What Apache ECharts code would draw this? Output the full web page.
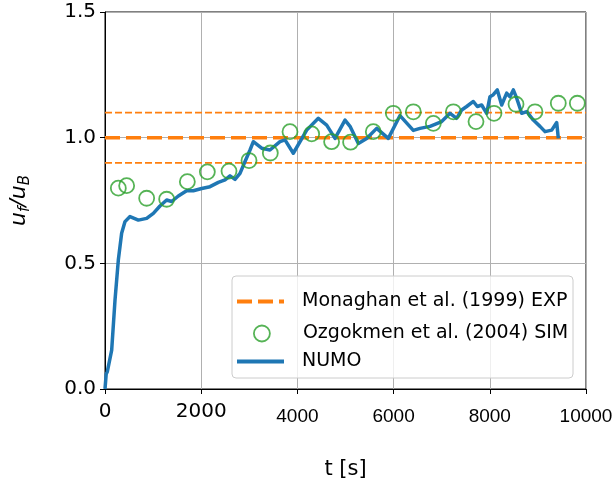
<!DOCTYPE html>
<html>
<head>
<meta charset="utf-8">
<script src="https://cdn.jsdelivr.net/npm/echarts@6/dist/echarts.min.js"></script>
<style>
  html, body { margin: 0; padding: 0; background: #fff; }
  #chart { width: 612px; height: 482px; }
</style>
</head>
<body>
<div id="chart"></div>
<script>
// model run (NUMO)
const numoT = [0, 25, 48, 139, 208, 277, 346, 416, 520, 693, 866, 1005, 1143, 1282, 1386, 1525, 1697, 1836,
  2010, 2183, 2356, 2495, 2599, 2703, 2807, 2911, 3015, 3084, 3257, 3430, 3638, 3742, 3915, 4193, 4435,
  4609, 4782, 4990, 5094, 5267, 5440, 5648, 5890, 6133, 6410, 6549, 6757, 6999, 7173, 7311, 7415, 7519,
  7658, 7741, 7831, 7935, 8004, 8073, 8156, 8247, 8351, 8420, 8489, 8559, 8663, 8767, 8905, 9044, 9148,
  9287, 9391, 9425]
const numoV = [0.0, 0.06, 0.069, 0.155, 0.354, 0.513, 0.62, 0.666, 0.686, 0.672, 0.679, 0.699, 0.728, 0.752,
  0.746, 0.768, 0.789, 0.789, 0.798, 0.805, 0.822, 0.832, 0.848, 0.834, 0.858, 0.905, 0.951, 0.984, 0.958,
  0.951, 0.984, 0.991, 0.938, 1.03, 1.077, 1.05, 0.997, 1.07, 1.045, 0.977, 0.997, 1.037, 0.997, 1.088,
  1.029, 1.037, 1.045, 1.064, 1.097, 1.077, 1.11, 1.124, 1.144, 1.124, 1.13, 1.097, 1.163, 1.171, 1.19,
  1.13, 1.177, 1.163, 1.19, 1.157, 1.097, 1.104, 1.07, 1.045, 1.024, 1.03, 1.06, 0.997]

// Ozgokmen et al. (2004) simulation
const ozT = [277, 450, 866, 1282, 1712, 2128, 2578, 2994, 3437, 3846, 4297, 4711, 5106, 5578, 5994, 6410,
  6826, 7242, 7713, 8087, 8545, 8940, 9424, 9820]
const ozV = [0.799, 0.809, 0.759, 0.755, 0.825, 0.864, 0.867, 0.909, 0.939, 1.024, 1.015, 0.984, 0.982,
  1.024, 1.097, 1.103, 1.057, 1.103, 1.064, 1.097, 1.133, 1.103, 1.137, 1.137]

// Monaghan et al. (1999) experiment: mean and band
const expSpan = [0, 10000]
const expMean = 1.0
const expBand = [0.9, 1.1]

const xTicks = [0, 2000, 4000, 6000, 8000, 10000]
const yTicks = [0.0, 0.5, 1.0, 1.5]

const names = ['Monaghan et al. (1999) EXP', 'Ozgokmen et al. (2004) SIM', 'NUMO']

const zip = (xs, ys) => xs.map((x, i) => [x, ys[i]])
const flat = (v) => expSpan.map((t) => [t, v])

const orange = '#ff7f0e'
const green = '#2ca02c'
const blue = '#1f77b4'

// one legend per entry so each gets its own icon size
function legendRow(name, left, top, icon, w, h, gap, style) {
  return {
    orient: 'vertical',
    left: left, top: top,
    padding: 0,
    itemWidth: w, itemHeight: h,
    icon: icon,
    itemStyle: style,
    textStyle: { fontFamily: 'DejaVu Sans', fontSize: 19, color: '#000', padding: [0, 0, 0, gap] },
    selectedMode: false,
    data: [name]
  }
}

const chart = echarts.init(document.getElementById('chart'))

const option = {
  animation: false,
  grid: {
    left: 105, right: 26, top: 12, bottom: 93,
    show: true, borderColor: '#000', borderWidth: 1,
    outerBoundsMode: 'none'
  },
  xAxis: {
    type: 'value',
    min: xTicks[0], max: xTicks[xTicks.length - 1], interval: 2000,
    name: 't [s]', nameLocation: 'middle', nameGap: 70,
    nameTextStyle: { fontFamily: 'DejaVu Sans', fontSize: 21, color: '#000' },
    axisLine: { lineStyle: { color: '#000', width: 1 } },
    axisTick: { show: true, length: 5, lineStyle: { color: '#000' } },
    axisLabel: {
      margin: 13,
      formatter: (v) => (v <= 2000 ? '{a|' + v + '}' : '{b|' + v + '}'),
      rich: {
        a: { fontFamily: 'DejaVu Sans', fontSize: 20, color: '#000' },
        b: { fontFamily: 'Liberation Sans', fontSize: 19, color: '#000', lineHeight: 30 }
      }
    },
    splitLine: { show: true, lineStyle: { color: '#b0b0b0', width: 1 } }
  },
  yAxis: {
    type: 'value',
    min: yTicks[0], max: yTicks[yTicks.length - 1], interval: 0.5,
    name: '{i|u}{s|f}{i|/u}{s|B}', nameLocation: 'middle', nameGap: 72, nameRotate: 90,
    nameTextStyle: {
      rich: {
        i: { fontFamily: 'DejaVu Sans', fontStyle: 'italic', fontSize: 22, color: '#000', lineHeight: 28, verticalAlign: 'middle' },
        s: { fontFamily: 'DejaVu Sans', fontStyle: 'italic', fontSize: 15, color: '#000', lineHeight: 24, verticalAlign: 'bottom' }
      }
    },
    axisLine: { show: true, lineStyle: { color: '#000', width: 1 } },
    axisTick: { show: true, length: 5, lineStyle: { color: '#000' } },
    axisLabel: {
      margin: 9,
      formatter: (v) => v.toFixed(1),
      fontFamily: 'DejaVu Sans', fontSize: 20, color: '#000'
    },
    splitLine: { show: true, lineStyle: { color: '#b0b0b0', width: 1 } }
  },
  graphic: [{
    type: 'rect',
    z: 3,
    shape: { x: 232, y: 276, width: 341, height: 102, r: 4 },
    style: { fill: 'rgba(255,255,255,0.8)', stroke: '#cccccc', lineWidth: 1 }
  }],
  legend: [
    legendRow(names[0], 237, 292, 'path://M0,0H15V4H0ZM21,0H36V4H21ZM42,0H47V4H42Z', 47, 4, 13,
      { color: orange, borderWidth: 0 }),
    legendRow(names[1], 253, 324, 'circle', 16, 16, 28,
      { color: 'rgba(0,0,0,0)', borderColor: green, borderWidth: 1.8 }),
    legendRow(names[2], 237, 352, 'rect', 47, 4, 13,
      { color: blue, borderWidth: 0 })
  ],
  series: [
    {
      name: names[0],
      type: 'line',
      data: flat(expMean),
      symbol: 'none',
      lineStyle: { color: orange, width: 3.5, type: [15, 6] },
      itemStyle: { color: orange },
      z: 2
    },
    {
      name: 'band-low',
      type: 'line',
      data: flat(expBand[0]),
      symbol: 'none',
      lineStyle: { color: orange, width: 1.8, type: [7, 3] },
      z: 2
    },
    {
      name: 'band-high',
      type: 'line',
      data: flat(expBand[1]),
      symbol: 'none',
      lineStyle: { color: orange, width: 1.8, type: [7, 3] },
      z: 2
    },
    {
      name: names[1],
      type: 'scatter',
      data: zip(ozT, ozV),
      symbol: 'circle',
      symbolSize: 15,
      itemStyle: { color: 'rgba(0,0,0,0)', borderColor: green, borderWidth: 1.8 },
      z: 2
    },
    {
      name: names[2],
      type: 'line',
      data: zip(numoT, numoV),
      symbol: 'none',
      lineStyle: { color: blue, width: 3.5, join: 'round' },
      itemStyle: { color: blue },
      z: 2
    }
  ]
}

chart.setOption(option)
</script>
</body>
</html>
